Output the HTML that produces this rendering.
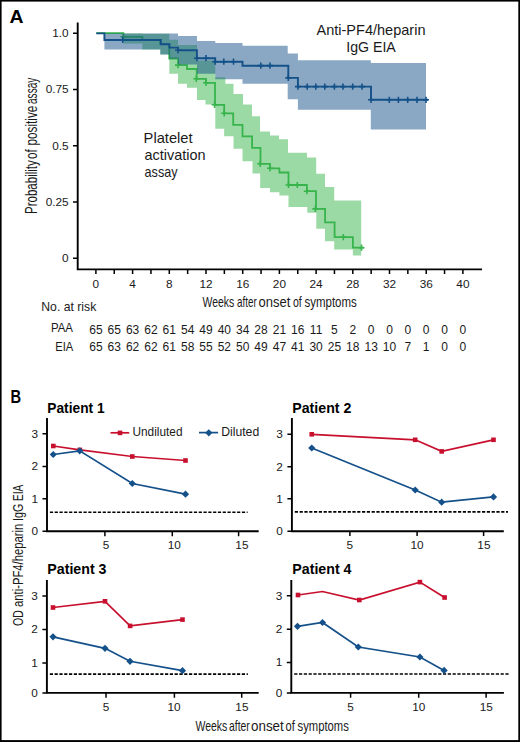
<!DOCTYPE html>
<html><head><meta charset="utf-8"><title>Figure</title>
<style>html,body{margin:0;padding:0;background:#fff;} svg{display:block;} text{font-family:"Liberation Sans", sans-serif;}</style>
</head><body>
<svg width="520" height="742" viewBox="0 0 520 742"><rect x="0" y="0" width="520" height="742" fill="#000"/>
<rect x="1.6" y="1.6" width="516.7" height="738.5" fill="#fff"/>
<path d="M123.4,33.4 L142.4,33.4 L142.4,43.6 L123.4,43.6 Z" fill="#37b44b" fill-opacity="0.5"/>
<path d="M142.30,33.80 L169.30,33.80 L169.30,39.80 L178.00,39.80 L178.00,45.00 L197.00,45.00 L197.00,60.60 L215.30,60.60 L215.30,77.30 L225.40,77.30 L225.40,83.70 L233.50,83.70 L233.50,94.00 L243.00,94.00 L243.00,104.60 L252.00,104.60 L252.00,116.20 L260.00,116.20 L260.00,131.50 L270.00,131.50 L270.00,135.40 L279.00,135.40 L279.00,139.20 L288.00,139.20 L288.00,152.70 L307.00,152.70 L307.00,157.50 L316.20,157.50 L316.20,173.80 L325.00,173.80 L325.00,187.00 L334.20,187.00 L334.20,200.50 L361.20,200.50 L361.20,255.40 L352.90,255.40 L352.90,249.60 L334.20,249.60 L334.20,241.20 L325.00,241.20 L325.00,228.70 L316.30,228.70 L316.30,212.80 L307.30,212.80 L307.30,207.10 L288.50,207.10 L288.50,195.60 L279.40,195.60 L279.40,192.30 L270.00,192.30 L270.00,187.90 L260.20,187.90 L260.20,173.50 L252.50,173.50 L252.50,161.30 L242.50,161.30 L242.50,148.80 L233.50,148.80 L233.50,136.30 L224.20,136.30 L224.20,128.70 L215.30,128.70 L215.30,104.50 L205.50,104.50 L205.50,100.00 L197.00,100.00 L197.00,87.70 L187.00,87.70 L187.00,83.70 L178.00,83.70 L178.00,73.80 L169.30,73.80 L169.30,54.40 L160.30,54.40 L160.30,49.40 L142.30,49.40 Z" fill="#37b44b" fill-opacity="0.5"/>
<path d="M96.30,33.10 L123.40,33.10 L123.40,36.80 L142.40,36.80 L142.40,40.10 L160.30,40.10 L160.30,44.20 L169.30,44.20 L169.30,58.50 L178.00,58.50 L178.00,65.10 L187.00,65.10 L187.00,69.00 L196.70,69.00 L196.70,78.80 L206.00,78.80 L206.00,82.80 L215.00,82.80 L215.00,104.80 L224.20,104.80 L224.20,113.30 L233.20,113.30 L233.20,124.80 L242.50,124.80 L242.50,136.30 L252.10,136.30 L252.10,147.90 L260.50,147.90 L260.50,163.80 L270.00,163.80 L270.00,168.30 L279.40,168.30 L279.40,172.50 L288.50,172.50 L288.50,185.00 L306.90,185.00 L306.90,191.20 L316.00,191.20 L316.00,208.90 L325.10,208.90 L325.10,222.40 L334.60,222.40 L334.60,237.10 L352.90,237.10 L352.90,247.70 L363.50,247.70" fill="none" stroke="#37b44b" stroke-width="1.8" stroke-linejoin="miter"/>
<path d="M123.4,33.699999999999996 V39.9 M120.4,36.8 H126.4M178,61.99999999999999 V68.19999999999999 M175,65.1 H181M196.3,75.7 V81.89999999999999 M193.3,78.8 H199.3M206,79.7 V85.89999999999999 M203,82.8 H209M214.6,101.7 V107.89999999999999 M211.6,104.8 H217.6M224.2,110.2 V116.39999999999999 M221.2,113.3 H227.2M260.2,160.70000000000002 V166.9 M257.2,163.8 H263.2M270,165.20000000000002 V171.4 M267,168.3 H273M288.5,181.9 V188.1 M285.5,185.0 H291.5M297.3,181.9 V188.1 M294.3,185.0 H300.3M306.9,188.1 V194.29999999999998 M303.9,191.2 H309.9M315.4,205.8 V212.0 M312.4,208.9 H318.4M343.3,234.0 V240.2 M340.3,237.1 H346.3M361.5,244.6 V250.79999999999998 M358.5,247.7 H364.5" stroke="#37b44b" stroke-width="1.6"/>
<path d="M104.40,33.50 L178.00,33.50 L178.00,36.00 L197.00,36.00 L197.00,41.00 L215.30,41.00 L215.30,42.90 L242.50,42.90 L242.50,45.80 L287.70,45.80 L287.70,53.50 L297.90,53.50 L297.90,60.20 L370.80,60.20 L370.80,62.90 L426.00,62.90 L426.00,129.60 L370.80,129.60 L370.80,109.80 L297.90,109.80 L297.90,99.20 L287.70,99.20 L287.70,83.70 L242.50,83.70 L242.50,79.30 L215.30,79.30 L215.30,73.80 L197.00,73.80 L197.00,64.60 L178.00,64.60 L178.00,58.80 L169.30,58.80 L169.30,54.40 L160.30,54.40 L160.30,49.40 L104.40,49.40 Z" fill="#155189" fill-opacity="0.5"/>
<path d="M96.30,33.40 L104.40,33.40 L104.40,40.00 L160.80,40.00 L160.80,44.30 L169.40,44.30 L169.40,47.60 L178.00,47.60 L178.00,50.20 L196.90,50.20 L196.90,58.20 L215.20,58.20 L215.20,61.70 L242.50,61.70 L242.50,65.70 L288.30,65.70 L288.30,77.90 L297.90,77.90 L297.90,86.60 L371.00,86.60 L371.00,99.80 L428.00,99.80" fill="none" stroke="#155189" stroke-width="1.9" stroke-linejoin="miter"/>
<path d="M122.7,36.9 V43.1 M119.7,40.0 H125.7M178,47.1 V53.300000000000004 M175,50.2 H181M196.9,55.1 V61.300000000000004 M193.9,58.2 H199.9M206,55.1 V61.300000000000004 M203,58.2 H209M215.2,58.6 V64.8 M212.2,61.7 H218.2M223.8,58.6 V64.8 M220.8,61.7 H226.8M233.5,58.6 V64.8 M230.5,61.7 H236.5M260.8,62.49999999999999 V68.69999999999999 M257.8,65.6 H263.8M270,62.49999999999999 V68.69999999999999 M267,65.6 H273M288.3,74.80000000000001 V81.0 M285.3,77.9 H291.3M297.9,83.5 V89.69999999999999 M294.9,86.6 H300.9M307.2,83.5 V89.69999999999999 M304.2,86.6 H310.2M315.8,83.5 V89.69999999999999 M312.8,86.6 H318.8M324.8,83.5 V89.69999999999999 M321.8,86.6 H327.8M334.4,83.5 V89.69999999999999 M331.4,86.6 H337.4M343,83.5 V89.69999999999999 M340,86.6 H346M352.7,83.5 V89.69999999999999 M349.7,86.6 H355.7M362,83.5 V89.69999999999999 M359,86.6 H365M371,96.7 V102.89999999999999 M368,99.8 H374M389.3,96.7 V102.89999999999999 M386.3,99.8 H392.3M398.4,96.7 V102.89999999999999 M395.4,99.8 H401.4M407.7,96.7 V102.89999999999999 M404.7,99.8 H410.7M417,96.7 V102.89999999999999 M414,99.8 H420M426,96.7 V102.89999999999999 M423,99.8 H429" stroke="#155189" stroke-width="1.6"/>
<g stroke="#000" fill="none">
<path d="M77.7,22.5 V269.4 H482" stroke-width="1.9"/>
<path d="M73,33.3 H78M73,89.5 H78M73,145.8 H78M73,202.0 H78M73,258.2 H78" stroke-width="1.5"/>
<path d="M95.90,269 V274M114.25,269 V274M132.60,269 V274M150.95,269 V274M169.30,269 V274M187.65,269 V274M206.00,269 V274M224.35,269 V274M242.70,269 V274M261.05,269 V274M279.40,269 V274M297.75,269 V274M316.10,269 V274M334.45,269 V274M352.80,269 V274M371.15,269 V274M389.50,269 V274M407.85,269 V274M426.20,269 V274M444.55,269 V274M462.90,269 V274" stroke-width="1.5"/>
</g>
<g font-family='"Liberation Sans", sans-serif' fill="#1a1a1a">
<text x="68.6" y="37.00" font-size="11.8" text-anchor="end" font-weight="normal" fill="#1a1a1a" >1.0</text>
<text x="68.6" y="93.20" font-size="11.8" text-anchor="end" font-weight="normal" fill="#1a1a1a" >0.75</text>
<text x="68.6" y="149.50" font-size="11.8" text-anchor="end" font-weight="normal" fill="#1a1a1a" >0.5</text>
<text x="68.6" y="205.70" font-size="11.8" text-anchor="end" font-weight="normal" fill="#1a1a1a" >0.25</text>
<text x="68.6" y="261.90" font-size="11.8" text-anchor="end" font-weight="normal" fill="#1a1a1a" >0</text>
<text x="95.90" y="287.8" font-size="11.8" text-anchor="middle" font-weight="normal" fill="#1a1a1a" >0</text>
<text x="132.60" y="287.8" font-size="11.8" text-anchor="middle" font-weight="normal" fill="#1a1a1a" >4</text>
<text x="169.30" y="287.8" font-size="11.8" text-anchor="middle" font-weight="normal" fill="#1a1a1a" >8</text>
<text x="206.00" y="287.8" font-size="11.8" text-anchor="middle" font-weight="normal" fill="#1a1a1a" >12</text>
<text x="242.70" y="287.8" font-size="11.8" text-anchor="middle" font-weight="normal" fill="#1a1a1a" >16</text>
<text x="279.40" y="287.8" font-size="11.8" text-anchor="middle" font-weight="normal" fill="#1a1a1a" >20</text>
<text x="316.10" y="287.8" font-size="11.8" text-anchor="middle" font-weight="normal" fill="#1a1a1a" >24</text>
<text x="352.80" y="287.8" font-size="11.8" text-anchor="middle" font-weight="normal" fill="#1a1a1a" >28</text>
<text x="389.50" y="287.8" font-size="11.8" text-anchor="middle" font-weight="normal" fill="#1a1a1a" >32</text>
<text x="426.20" y="287.8" font-size="11.8" text-anchor="middle" font-weight="normal" fill="#1a1a1a" >36</text>
<text x="462.90" y="287.8" font-size="11.8" text-anchor="middle" font-weight="normal" fill="#1a1a1a" >40</text>
<text x="95.90" y="333.5" font-size="12" text-anchor="middle" font-weight="normal" fill="#1a1a1a" >65</text>
<text x="95.90" y="351.2" font-size="12" text-anchor="middle" font-weight="normal" fill="#1a1a1a" >65</text>
<text x="114.25" y="333.5" font-size="12" text-anchor="middle" font-weight="normal" fill="#1a1a1a" >65</text>
<text x="114.25" y="351.2" font-size="12" text-anchor="middle" font-weight="normal" fill="#1a1a1a" >63</text>
<text x="132.60" y="333.5" font-size="12" text-anchor="middle" font-weight="normal" fill="#1a1a1a" >63</text>
<text x="132.60" y="351.2" font-size="12" text-anchor="middle" font-weight="normal" fill="#1a1a1a" >62</text>
<text x="150.95" y="333.5" font-size="12" text-anchor="middle" font-weight="normal" fill="#1a1a1a" >62</text>
<text x="150.95" y="351.2" font-size="12" text-anchor="middle" font-weight="normal" fill="#1a1a1a" >62</text>
<text x="169.30" y="333.5" font-size="12" text-anchor="middle" font-weight="normal" fill="#1a1a1a" >61</text>
<text x="169.30" y="351.2" font-size="12" text-anchor="middle" font-weight="normal" fill="#1a1a1a" >61</text>
<text x="187.65" y="333.5" font-size="12" text-anchor="middle" font-weight="normal" fill="#1a1a1a" >54</text>
<text x="187.65" y="351.2" font-size="12" text-anchor="middle" font-weight="normal" fill="#1a1a1a" >58</text>
<text x="206.00" y="333.5" font-size="12" text-anchor="middle" font-weight="normal" fill="#1a1a1a" >49</text>
<text x="206.00" y="351.2" font-size="12" text-anchor="middle" font-weight="normal" fill="#1a1a1a" >55</text>
<text x="224.35" y="333.5" font-size="12" text-anchor="middle" font-weight="normal" fill="#1a1a1a" >40</text>
<text x="224.35" y="351.2" font-size="12" text-anchor="middle" font-weight="normal" fill="#1a1a1a" >52</text>
<text x="242.70" y="333.5" font-size="12" text-anchor="middle" font-weight="normal" fill="#1a1a1a" >34</text>
<text x="242.70" y="351.2" font-size="12" text-anchor="middle" font-weight="normal" fill="#1a1a1a" >50</text>
<text x="261.05" y="333.5" font-size="12" text-anchor="middle" font-weight="normal" fill="#1a1a1a" >28</text>
<text x="261.05" y="351.2" font-size="12" text-anchor="middle" font-weight="normal" fill="#1a1a1a" >49</text>
<text x="279.40" y="333.5" font-size="12" text-anchor="middle" font-weight="normal" fill="#1a1a1a" >21</text>
<text x="279.40" y="351.2" font-size="12" text-anchor="middle" font-weight="normal" fill="#1a1a1a" >47</text>
<text x="297.75" y="333.5" font-size="12" text-anchor="middle" font-weight="normal" fill="#1a1a1a" >16</text>
<text x="297.75" y="351.2" font-size="12" text-anchor="middle" font-weight="normal" fill="#1a1a1a" >41</text>
<text x="316.10" y="333.5" font-size="12" text-anchor="middle" font-weight="normal" fill="#1a1a1a" >11</text>
<text x="316.10" y="351.2" font-size="12" text-anchor="middle" font-weight="normal" fill="#1a1a1a" >30</text>
<text x="334.45" y="333.5" font-size="12" text-anchor="middle" font-weight="normal" fill="#1a1a1a" >5</text>
<text x="334.45" y="351.2" font-size="12" text-anchor="middle" font-weight="normal" fill="#1a1a1a" >25</text>
<text x="352.80" y="333.5" font-size="12" text-anchor="middle" font-weight="normal" fill="#1a1a1a" >2</text>
<text x="352.80" y="351.2" font-size="12" text-anchor="middle" font-weight="normal" fill="#1a1a1a" >18</text>
<text x="371.15" y="333.5" font-size="12" text-anchor="middle" font-weight="normal" fill="#1a1a1a" >0</text>
<text x="371.15" y="351.2" font-size="12" text-anchor="middle" font-weight="normal" fill="#1a1a1a" >13</text>
<text x="389.50" y="333.5" font-size="12" text-anchor="middle" font-weight="normal" fill="#1a1a1a" >0</text>
<text x="389.50" y="351.2" font-size="12" text-anchor="middle" font-weight="normal" fill="#1a1a1a" >10</text>
<text x="407.85" y="333.5" font-size="12" text-anchor="middle" font-weight="normal" fill="#1a1a1a" >0</text>
<text x="407.85" y="351.2" font-size="12" text-anchor="middle" font-weight="normal" fill="#1a1a1a" >7</text>
<text x="426.20" y="333.5" font-size="12" text-anchor="middle" font-weight="normal" fill="#1a1a1a" >0</text>
<text x="426.20" y="351.2" font-size="12" text-anchor="middle" font-weight="normal" fill="#1a1a1a" >1</text>
<text x="444.55" y="333.5" font-size="12" text-anchor="middle" font-weight="normal" fill="#1a1a1a" >0</text>
<text x="444.55" y="351.2" font-size="12" text-anchor="middle" font-weight="normal" fill="#1a1a1a" >0</text>
<text x="462.90" y="333.5" font-size="12" text-anchor="middle" font-weight="normal" fill="#1a1a1a" >0</text>
<text x="462.90" y="351.2" font-size="12" text-anchor="middle" font-weight="normal" fill="#1a1a1a" >0</text>
</g>
<g stroke="#000" fill="none">
<path d="M47.0,418.0 V531.3 H258.7" stroke-width="1.9"/>
<path d="M42.5,433.75 H47.0M42.5,466.4 H47.0M42.5,498.8 H47.0M42.5,531.3 H47.0" stroke-width="1.5"/>
<path d="M104.9,531.3 V536.1999999999999M172.3,531.3 V536.1999999999999M238.6,531.3 V536.1999999999999" stroke-width="1.5"/>
<path d="M49.9,512.2 H247.6" stroke-width="1.6" stroke-dasharray="3.2 1.6"/>
</g>
<path d="M53.30,446.00 L79.80,449.90 L132.30,456.50 L185.50,460.50" fill="none" stroke="#c8102e" stroke-width="1.7"/>
<rect x="51.00" y="443.70" width="4.6" height="4.6" fill="#c8102e"/>
<rect x="77.50" y="447.60" width="4.6" height="4.6" fill="#c8102e"/>
<rect x="130.00" y="454.20" width="4.6" height="4.6" fill="#c8102e"/>
<rect x="183.20" y="458.20" width="4.6" height="4.6" fill="#c8102e"/>
<path d="M53.25,454.50 L79.70,450.80 L132.30,483.50 L185.50,494.20" fill="none" stroke="#145089" stroke-width="1.7"/>
<path d="M53.25,450.9 L56.85,454.5 L53.25,458.1 L49.65,454.5 Z" fill="#145089"/>
<path d="M79.7,447.2 L83.3,450.8 L79.7,454.40000000000003 L76.10000000000001,450.8 Z" fill="#145089"/>
<path d="M132.3,479.9 L135.9,483.5 L132.3,487.1 L128.70000000000002,483.5 Z" fill="#145089"/>
<path d="M185.5,490.59999999999997 L189.1,494.2 L185.5,497.8 L181.9,494.2 Z" fill="#145089"/>
<g font-family='"Liberation Sans", sans-serif' fill="#1a1a1a">
<text x="38.00" y="437.65" font-size="11.8" text-anchor="end" font-weight="normal" fill="#1a1a1a" >3</text>
<text x="38.00" y="470.30" font-size="11.8" text-anchor="end" font-weight="normal" fill="#1a1a1a" >2</text>
<text x="38.00" y="502.70" font-size="11.8" text-anchor="end" font-weight="normal" fill="#1a1a1a" >1</text>
<text x="38.00" y="535.20" font-size="11.8" text-anchor="end" font-weight="normal" fill="#1a1a1a" >0</text>
<text x="106.00" y="549.40" font-size="11.8" text-anchor="middle" font-weight="normal" fill="#1a1a1a" >5</text>
<text x="174.30" y="549.40" font-size="11.8" text-anchor="middle" font-weight="normal" fill="#1a1a1a" >10</text>
<text x="241.90" y="549.40" font-size="11.8" text-anchor="middle" font-weight="normal" fill="#1a1a1a" >15</text>
</g>
<g stroke="#000" fill="none">
<path d="M291.9,418.0 V531.2 H503.8" stroke-width="1.9"/>
<path d="M287.4,434.25 H291.9M287.4,466.75 H291.9M287.4,498.8 H291.9M287.4,531.2 H291.9" stroke-width="1.5"/>
<path d="M349.9,531.2 V536.1M417.1,531.2 V536.1M483.6,531.2 V536.1" stroke-width="1.5"/>
<path d="M294.79999999999995,511.9 H508.0" stroke-width="1.6" stroke-dasharray="3.2 1.6"/>
</g>
<path d="M311.75,434.30 L415.20,439.80 L441.70,451.40 L493.50,439.80" fill="none" stroke="#c8102e" stroke-width="1.7"/>
<rect x="309.45" y="432.00" width="4.6" height="4.6" fill="#c8102e"/>
<rect x="412.90" y="437.50" width="4.6" height="4.6" fill="#c8102e"/>
<rect x="439.40" y="449.10" width="4.6" height="4.6" fill="#c8102e"/>
<rect x="491.20" y="437.50" width="4.6" height="4.6" fill="#c8102e"/>
<path d="M311.75,448.00 L415.20,490.00 L441.70,502.20 L493.50,496.90" fill="none" stroke="#145089" stroke-width="1.7"/>
<path d="M311.75,444.4 L315.35,448.0 L311.75,451.6 L308.15,448.0 Z" fill="#145089"/>
<path d="M415.2,486.4 L418.8,490.0 L415.2,493.6 L411.59999999999997,490.0 Z" fill="#145089"/>
<path d="M441.7,498.59999999999997 L445.3,502.2 L441.7,505.8 L438.09999999999997,502.2 Z" fill="#145089"/>
<path d="M493.5,493.29999999999995 L497.1,496.9 L493.5,500.5 L489.9,496.9 Z" fill="#145089"/>
<g font-family='"Liberation Sans", sans-serif' fill="#1a1a1a">
<text x="282.90" y="438.15" font-size="11.8" text-anchor="end" font-weight="normal" fill="#1a1a1a" >3</text>
<text x="282.90" y="470.65" font-size="11.8" text-anchor="end" font-weight="normal" fill="#1a1a1a" >2</text>
<text x="282.90" y="502.70" font-size="11.8" text-anchor="end" font-weight="normal" fill="#1a1a1a" >1</text>
<text x="282.90" y="535.10" font-size="11.8" text-anchor="end" font-weight="normal" fill="#1a1a1a" >0</text>
<text x="349.90" y="549.30" font-size="11.8" text-anchor="middle" font-weight="normal" fill="#1a1a1a" >5</text>
<text x="417.00" y="549.30" font-size="11.8" text-anchor="middle" font-weight="normal" fill="#1a1a1a" >10</text>
<text x="483.90" y="549.30" font-size="11.8" text-anchor="middle" font-weight="normal" fill="#1a1a1a" >15</text>
</g>
<g stroke="#000" fill="none">
<path d="M46.9,580.0 V692.9 H258.7" stroke-width="1.9"/>
<path d="M42.4,596.0 H46.9M42.4,629.5 H46.9M42.4,663.0 H46.9M42.4,692.9 H46.9" stroke-width="1.5"/>
<path d="M106.0,692.9 V697.8M174.4,692.9 V697.8M241.7,692.9 V697.8" stroke-width="1.5"/>
<path d="M49.8,674.1 H247.9" stroke-width="1.6" stroke-dasharray="3.2 1.6"/>
</g>
<path d="M53.00,607.50 L105.00,601.30 L130.10,625.90 L182.50,619.60" fill="none" stroke="#c8102e" stroke-width="1.7"/>
<rect x="50.70" y="605.20" width="4.6" height="4.6" fill="#c8102e"/>
<rect x="102.70" y="599.00" width="4.6" height="4.6" fill="#c8102e"/>
<rect x="127.80" y="623.60" width="4.6" height="4.6" fill="#c8102e"/>
<rect x="180.20" y="617.30" width="4.6" height="4.6" fill="#c8102e"/>
<path d="M53.00,636.80 L105.00,648.30 L130.00,661.30 L182.50,670.70" fill="none" stroke="#145089" stroke-width="1.7"/>
<path d="M53.0,633.1999999999999 L56.6,636.8 L53.0,640.4 L49.4,636.8 Z" fill="#145089"/>
<path d="M105.0,644.6999999999999 L108.6,648.3 L105.0,651.9 L101.4,648.3 Z" fill="#145089"/>
<path d="M130.0,657.6999999999999 L133.6,661.3 L130.0,664.9 L126.4,661.3 Z" fill="#145089"/>
<path d="M182.5,667.1 L186.1,670.7 L182.5,674.3000000000001 L178.9,670.7 Z" fill="#145089"/>
<g font-family='"Liberation Sans", sans-serif' fill="#1a1a1a">
<text x="37.90" y="599.90" font-size="11.8" text-anchor="end" font-weight="normal" fill="#1a1a1a" >3</text>
<text x="37.90" y="633.40" font-size="11.8" text-anchor="end" font-weight="normal" fill="#1a1a1a" >2</text>
<text x="37.90" y="666.90" font-size="11.8" text-anchor="end" font-weight="normal" fill="#1a1a1a" >1</text>
<text x="37.90" y="696.80" font-size="11.8" text-anchor="end" font-weight="normal" fill="#1a1a1a" >0</text>
<text x="106.00" y="711.00" font-size="11.8" text-anchor="middle" font-weight="normal" fill="#1a1a1a" >5</text>
<text x="174.00" y="711.00" font-size="11.8" text-anchor="middle" font-weight="normal" fill="#1a1a1a" >10</text>
<text x="241.90" y="711.00" font-size="11.8" text-anchor="middle" font-weight="normal" fill="#1a1a1a" >15</text>
</g>
<g stroke="#000" fill="none">
<path d="M291.3,580.0 V692.9 H503.9" stroke-width="1.9"/>
<path d="M286.8,595.75 H291.3M286.8,629.25 H291.3M286.8,662.5 H291.3M286.8,692.9 H291.3" stroke-width="1.5"/>
<path d="M350.6,692.9 V697.8M418.7,692.9 V697.8M486.1,692.9 V697.8" stroke-width="1.5"/>
<path d="M294.2,674.0 H510.0" stroke-width="1.6" stroke-dasharray="3.2 1.6"/>
</g>
<path d="M298.00,595.00 L322.50,591.50 L359.30,600.00 L419.90,582.10 L444.60,597.50" fill="none" stroke="#c8102e" stroke-width="1.7"/>
<rect x="295.70" y="592.70" width="4.6" height="4.6" fill="#c8102e"/>
<rect x="357.00" y="597.70" width="4.6" height="4.6" fill="#c8102e"/>
<rect x="417.60" y="579.80" width="4.6" height="4.6" fill="#c8102e"/>
<rect x="442.30" y="595.20" width="4.6" height="4.6" fill="#c8102e"/>
<path d="M297.50,626.30 L322.50,622.50 L358.30,647.00 L419.90,657.00 L444.10,670.40" fill="none" stroke="#145089" stroke-width="1.7"/>
<path d="M297.5,622.6999999999999 L301.1,626.3 L297.5,629.9 L293.9,626.3 Z" fill="#145089"/>
<path d="M322.5,618.9 L326.1,622.5 L322.5,626.1 L318.9,622.5 Z" fill="#145089"/>
<path d="M358.3,643.4 L361.90000000000003,647.0 L358.3,650.6 L354.7,647.0 Z" fill="#145089"/>
<path d="M419.9,653.4 L423.5,657.0 L419.9,660.6 L416.29999999999995,657.0 Z" fill="#145089"/>
<path d="M444.1,666.8 L447.70000000000005,670.4 L444.1,674.0 L440.5,670.4 Z" fill="#145089"/>
<g font-family='"Liberation Sans", sans-serif' fill="#1a1a1a">
<text x="282.30" y="599.65" font-size="11.8" text-anchor="end" font-weight="normal" fill="#1a1a1a" >3</text>
<text x="282.30" y="633.15" font-size="11.8" text-anchor="end" font-weight="normal" fill="#1a1a1a" >2</text>
<text x="282.30" y="666.40" font-size="11.8" text-anchor="end" font-weight="normal" fill="#1a1a1a" >1</text>
<text x="282.30" y="696.80" font-size="11.8" text-anchor="end" font-weight="normal" fill="#1a1a1a" >0</text>
<text x="350.60" y="711.00" font-size="11.8" text-anchor="middle" font-weight="normal" fill="#1a1a1a" >5</text>
<text x="418.70" y="711.00" font-size="11.8" text-anchor="middle" font-weight="normal" fill="#1a1a1a" >10</text>
<text x="486.30" y="711.00" font-size="11.8" text-anchor="middle" font-weight="normal" fill="#1a1a1a" >15</text>
</g>
<path d="M110.5,432.8 H129.2" stroke="#c8102e" stroke-width="1.7"/>
<rect x="117.70" y="430.60" width="4.6" height="4.6" fill="#c8102e"/>
<path d="M199,432.6 H218.1" stroke="#145089" stroke-width="1.7"/>
<path d="M208.8,429.2 L212.4,432.8 L208.8,436.40000000000003 L205.20000000000002,432.8 Z" fill="#145089"/>
<g font-family='"Liberation Sans", sans-serif' fill="#1a1a1a">
</g>
<g font-family='"Liberation Sans", sans-serif'>
<text x="9.40" y="23.00" font-size="18.21" font-weight="bold" fill="#000" textLength="14.00" lengthAdjust="spacingAndGlyphs">A</text>
<text x="41.30" y="311.30" font-size="12.16" font-weight="normal" fill="#1a1a1a" textLength="55.00" lengthAdjust="spacingAndGlyphs">No. at risk</text>
<text x="50.90" y="332.10" font-size="12.14" font-weight="normal" fill="#1a1a1a" textLength="22.00" lengthAdjust="spacingAndGlyphs">PAA</text>
<text x="55.20" y="350.80" font-size="12.14" font-weight="normal" fill="#1a1a1a" textLength="18.00" lengthAdjust="spacingAndGlyphs">EIA</text>
<text x="316.50" y="34.60" font-size="14.30" font-weight="normal" fill="#1a1a1a" textLength="109.00" lengthAdjust="spacingAndGlyphs">Anti-PF4/heparin</text>
<text x="346.30" y="51.80" font-size="14.30" font-weight="normal" fill="#1a1a1a" textLength="49.50" lengthAdjust="spacingAndGlyphs">IgG EIA</text>
<text x="143.60" y="142.50" font-size="13.90" font-weight="normal" fill="#1a1a1a" textLength="49.00" lengthAdjust="spacingAndGlyphs">Platelet</text>
<text x="144.60" y="159.60" font-size="13.90" font-weight="normal" fill="#1a1a1a" textLength="61.00" lengthAdjust="spacingAndGlyphs">activation</text>
<text x="144.60" y="176.50" font-size="13.90" font-weight="normal" fill="#1a1a1a" textLength="33.00" lengthAdjust="spacingAndGlyphs">assay</text>
<text x="10.60" y="402.80" font-size="18.20" font-weight="bold" fill="#000" textLength="10.60" lengthAdjust="spacingAndGlyphs">B</text>
<text x="47.30" y="412.80" font-size="14.20" font-weight="bold" fill="#000" textLength="57.30" lengthAdjust="spacingAndGlyphs">Patient 1</text>
<text x="292.30" y="412.80" font-size="14.20" font-weight="bold" fill="#000" textLength="59.00" lengthAdjust="spacingAndGlyphs">Patient 2</text>
<text x="47.30" y="574.00" font-size="14.20" font-weight="bold" fill="#000" textLength="59.20" lengthAdjust="spacingAndGlyphs">Patient 3</text>
<text x="292.30" y="574.00" font-size="14.20" font-weight="bold" fill="#000" textLength="59.20" lengthAdjust="spacingAndGlyphs">Patient 4</text>
<text x="132.50" y="436.20" font-size="12.17" font-weight="normal" fill="#1a1a1a" textLength="50.00" lengthAdjust="spacingAndGlyphs">Undiluted</text>
<text x="221.20" y="436.40" font-size="12.16" font-weight="normal" fill="#1a1a1a" textLength="38.00" lengthAdjust="spacingAndGlyphs">Diluted</text>
<text x="202.50" y="306.80" font-size="14.40" font-weight="normal" fill="#1a1a1a" textLength="31.80" lengthAdjust="spacingAndGlyphs">Weeks</text>
<text x="237.00" y="306.80" font-size="14.40" font-weight="normal" fill="#1a1a1a" textLength="19.80" lengthAdjust="spacingAndGlyphs">after</text>
<text x="258.50" y="306.80" font-size="14.40" font-weight="normal" fill="#1a1a1a" textLength="31.80" lengthAdjust="spacingAndGlyphs">onset</text>
<text x="293.00" y="306.80" font-size="14.40" font-weight="normal" fill="#1a1a1a" textLength="8.80" lengthAdjust="spacingAndGlyphs">of</text>
<text x="304.50" y="306.80" font-size="14.40" font-weight="normal" fill="#1a1a1a" textLength="52.30" lengthAdjust="spacingAndGlyphs">symptoms</text>
<text x="195.50" y="731.30" font-size="14.40" font-weight="normal" fill="#1a1a1a" textLength="31.80" lengthAdjust="spacingAndGlyphs">Weeks</text>
<text x="229.00" y="731.30" font-size="14.40" font-weight="normal" fill="#1a1a1a" textLength="20.80" lengthAdjust="spacingAndGlyphs">after</text>
<text x="251.00" y="731.30" font-size="14.40" font-weight="normal" fill="#1a1a1a" textLength="32.80" lengthAdjust="spacingAndGlyphs">onset</text>
<text x="285.50" y="731.30" font-size="14.40" font-weight="normal" fill="#1a1a1a" textLength="9.30" lengthAdjust="spacingAndGlyphs">of</text>
<text x="297.50" y="731.30" font-size="14.40" font-weight="normal" fill="#1a1a1a" textLength="51.30" lengthAdjust="spacingAndGlyphs">symptoms</text>
<text transform="translate(37.10,214.00) rotate(-90)" x="0" y="0" font-size="15.60" font-weight="normal" fill="#1a1a1a" textLength="53.80" lengthAdjust="spacingAndGlyphs">Probability</text>
<text transform="translate(37.10,159.00) rotate(-90)" x="0" y="0" font-size="15.60" font-weight="normal" fill="#1a1a1a" textLength="9.80" lengthAdjust="spacingAndGlyphs">of</text>
<text transform="translate(37.10,145.50) rotate(-90)" x="0" y="0" font-size="15.60" font-weight="normal" fill="#1a1a1a" textLength="39.80" lengthAdjust="spacingAndGlyphs">positive</text>
<text transform="translate(37.10,104.00) rotate(-90)" x="0" y="0" font-size="15.60" font-weight="normal" fill="#1a1a1a" textLength="26.30" lengthAdjust="spacingAndGlyphs">assay</text>
<text transform="translate(23.20,626.00) rotate(-90)" x="0" y="0" font-size="15.40" font-weight="normal" fill="#1a1a1a" textLength="15.80" lengthAdjust="spacingAndGlyphs">OD</text>
<text transform="translate(23.20,607.00) rotate(-90)" x="0" y="0" font-size="15.40" font-weight="normal" fill="#1a1a1a" textLength="83.30" lengthAdjust="spacingAndGlyphs">anti-PF4/heparin</text>
<text transform="translate(23.20,521.00) rotate(-90)" x="0" y="0" font-size="15.40" font-weight="normal" fill="#1a1a1a" textLength="17.30" lengthAdjust="spacingAndGlyphs">IgG</text>
<text transform="translate(23.20,501.00) rotate(-90)" x="0" y="0" font-size="15.40" font-weight="normal" fill="#1a1a1a" textLength="16.30" lengthAdjust="spacingAndGlyphs">EIA</text>
</g></svg>
</body></html>
